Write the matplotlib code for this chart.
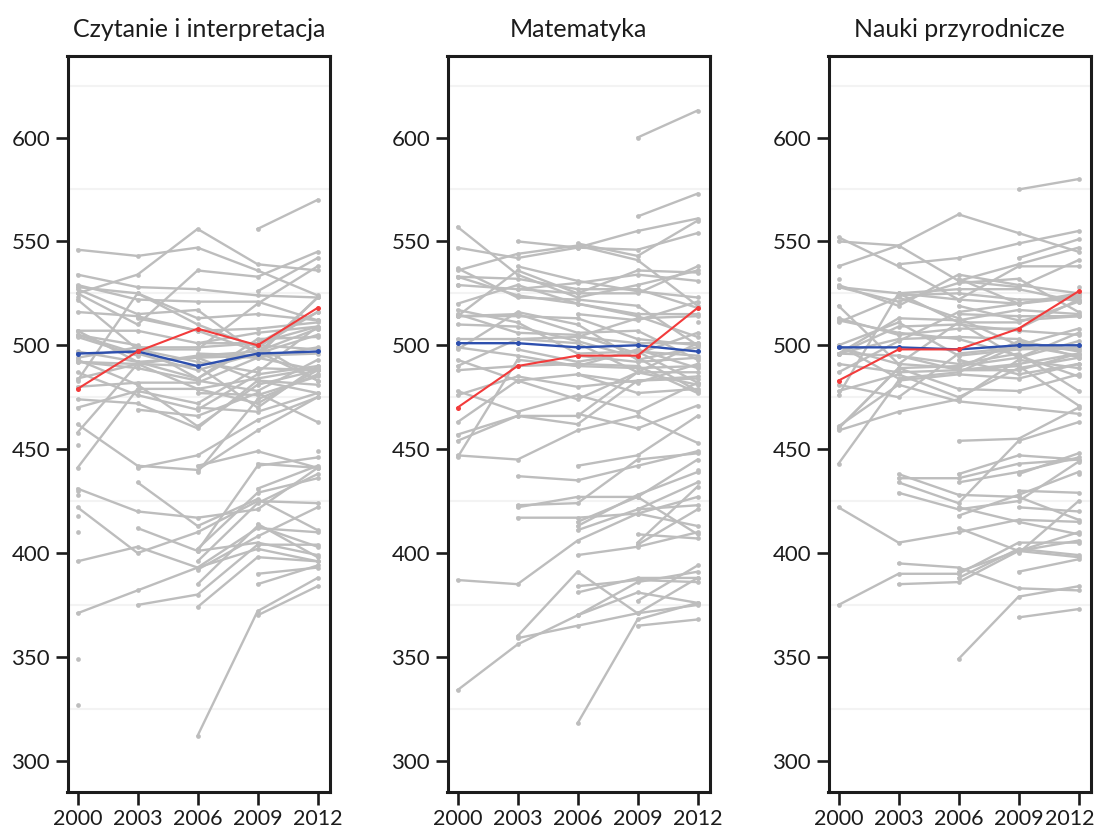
import matplotlib
matplotlib.use("Agg")
import matplotlib.pyplot as plt
import matplotlib.transforms as mtransforms
import numpy as np

plt.rcParams['font.family'] = ['Lato', 'DejaVu Sans']

years = [2000, 2003, 2006, 2009, 2012]
titles = ["Czytanie i interpretacja", "Matematyka", "Nauki przyrodnicze"]
yticks = [300, 350, 400, 450, 500, 550, 600]
faint_grid = [325, 375, 425, 475, 525, 575, 625]
N = None

countries = ["Szanghaj", "Singapur", "Hongkong", "Tajwan", "Korea", "Makau", "Japonia",
             "Liechtenstein", "Szwajcaria", "Holandia", "Estonia", "Finlandia", "Kanada",
             "Polska", "Belgia", "Niemcy", "Wietnam", "Austria", "Australia", "Irlandia",
             "Słowenia", "Dania", "Nowa Zelandia", "Czechy", "Francja", "Wielka Brytania",
             "Islandia", "Łotwa", "Luksemburg", "Norwegia", "Portugalia", "Włochy",
             "Hiszpania", "Rosja", "Słowacja", "USA", "Litwa", "Szwecja", "Węgry",
             "Chorwacja", "Izrael", "Grecja", "Serbia", "Turcja", "Rumunia", "Cypr",
             "Bułgaria", "ZEA", "Kazachstan", "Tajlandia", "Chile", "Malezja", "Meksyk",
             "Czarnogóra", "Urugwaj", "Kostaryka", "Albania", "Brazylia", "Argentyna",
             "Tunezja", "Jordania", "Kolumbia", "Katar", "Indonezja", "Peru"]

reading = [
    [N, N, N, 556, 570], [N, N, N, 526, 542], [525, 510, 536, 533, 545], [N, N, 496, 495, 523],
    [525, 534, 556, 539, 536], [N, 498, 492, 487, 509], [522, 498, 498, 520, 538],
    [483, 525, 510, 499, 516], [494, 499, 499, 501, 509], [N, 513, 507, 508, 511],
    [N, N, 501, 501, 516], [546, 543, 547, 536, 524], [534, 528, 527, 524, 523],
    [479, 497, 508, 500, 518], [507, 507, 501, 506, 509], [484, 491, 495, 497, 508],
    [N, N, N, N, 508], [492, 491, 490, 470, 490], [528, 525, 513, 515, 512],
    [527, 515, 517, 496, 523], [N, N, 494, 483, 481], [497, 492, 494, 495, 496],
    [529, 522, 521, 521, 512], [492, 489, 483, 478, 493], [505, 496, 488, 496, 505],
    [523, N, 495, 494, 499], [507, 492, 484, 500, 483], [458, 491, 479, 484, 489],
    [441, 479, 479, 472, 488], [505, 500, 484, 503, 504], [470, 478, 472, 489, 488],
    [487, 476, 469, 486, 490], [493, 481, 461, 481, 488], [462, 442, 440, 459, 475],
    [N, 469, 466, 477, 463], [504, 495, N, 500, 498], [N, N, 470, 468, 477],
    [516, 514, 507, 497, 483], [480, 482, 482, 494, 488], [N, N, 477, 476, 485],
    [452, N, 439, 474, 486], [474, 472, 460, 483, 477], [N, 412, 401, 442, 446],
    [N, 441, 447, 464, 475], [428, N, 396, 424, 438], [N, N, N, N, 449],
    [430, N, 402, 429, 436], [N, N, N, 431, 442], [N, N, N, 390, 393],
    [431, 420, 417, 421, 441], [410, N, 442, 449, 441], [N, N, N, 414, 398],
    [422, 400, 410, 425, 424], [N, N, 392, 408, 422], [N, 434, 413, 426, 411],
    [N, N, N, 443, 441], [349, N, N, 385, 394], [396, 403, 393, 412, 410],
    [418, N, 374, 398, 396], [N, 375, 380, 404, 404], [N, N, 401, 405, 399],
    [N, N, 385, 413, 403], [N, N, 312, 372, 388], [371, 382, 393, 402, 396],
    [327, N, N, 370, 384]]

math = [
    [N, N, N, 600, 613], [N, N, N, 562, 573], [N, 550, 547, 555, 561], [N, N, 549, 543, 560],
    [547, 542, 547, 546, 554], [N, 527, 525, 525, 538], [557, 534, 523, 529, 536],
    [514, 536, 525, 536, 535], [529, 527, 530, 534, 531], [N, 538, 531, 526, 523],
    [N, N, 515, 512, 521], [536, 544, 548, 541, 519], [533, 532, 527, 527, 518],
    [470, 490, 495, 495, 518], [520, 529, 520, 515, 515], [490, 503, 504, 513, 514],
    [N, N, N, N, 511], [515, 506, 505, 496, 506], [533, 524, 520, 514, 504],
    [503, 503, 501, 487, 501], [N, N, 504, 501, 501], [514, 514, 513, 503, 500],
    [537, 523, 522, 519, 500], [498, 516, 510, 493, 499], [517, 511, 496, 497, 495],
    [529, N, 495, 492, 494], [514, 515, 506, 507, 493], [463, 483, 486, 482, 491],
    [446, 493, 490, 489, 490], [499, 495, 490, 498, 489], [454, 466, 466, 487, 487],
    [457, 466, 462, 483, 485], [476, 485, 480, 483, 484], [478, 468, 476, 468, 482],
    [N, 498, 492, 497, 482], [493, 483, 474, 487, 481], [N, N, 486, 477, 479],
    [510, 509, 502, 494, 478], [488, 490, 491, 490, 477], [N, N, 467, 460, 471],
    [N, N, 442, 447, 466], [447, 445, 459, 466, 453], [N, 437, 435, 442, 449],
    [N, 423, 424, 445, 448], [N, N, 415, 427, 445], [N, N, N, N, 440],
    [N, N, 413, 428, 439], [N, N, N, 421, 434], [N, N, N, 405, 432],
    [N, 417, 417, 419, 427], [N, N, 411, 421, 423], [N, N, N, 404, 421],
    [387, 385, 406, 419, 413], [N, N, 399, 403, 410], [N, 422, 427, 427, 409],
    [N, N, N, 409, 407], [N, N, N, 377, 394], [334, 356, 370, 386, 391],
    [N, N, 381, 388, 388], [N, 359, 365, 371, 388], [N, N, 384, 387, 386],
    [N, N, 370, 381, 376], [N, N, 318, 368, 376], [N, 360, 391, 371, 375],
    [N, N, N, 365, 368]]

science = [
    [N, N, N, 575, 580], [N, N, N, 542, 551], [N, 539, 542, 549, 555], [N, N, 532, 520, 523],
    [552, 538, 522, 538, 538], [N, 525, 511, 511, 521], [550, 548, 531, 539, 547],
    [476, 525, 522, 520, 525], [496, 513, 512, 517, 515], [N, 524, 525, 522, 522],
    [N, N, 531, 528, 541], [538, 548, 563, 554, 545], [529, 519, 534, 529, 525],
    [483, 498, 498, 508, 526], [496, 509, 510, 507, 505], [487, 502, 516, 520, 524],
    [N, N, N, N, 528], [519, 491, 511, 494, 506], [528, 525, 527, 527, 521],
    [513, 505, 508, 508, 522], [N, N, 519, 512, 514], [481, 475, 496, 499, 498],
    [528, 521, 530, 532, 516], [511, 523, 513, 500, 508], [500, 511, 495, 498, 499],
    [532, N, 515, 514, 514], [496, 495, 491, 496, 478], [460, 489, 490, 494, 502],
    [443, 483, 486, 484, 491], [500, 484, 487, 500, 495], [459, 468, 474, 493, 489],
    [478, 486, 475, 489, 494], [491, 487, 488, 488, 496], [460, 489, 479, 478, 486],
    [N, 495, 488, 490, 471], [499, 491, 489, 502, 497], [N, N, 488, 491, 496],
    [512, 506, 503, 495, 485], [496, 503, 504, 503, 494], [N, N, 493, 486, 491],
    [N, N, 454, 455, 470], [461, 481, 473, 470, 467], [N, 436, 436, 443, 445],
    [N, 434, 424, 454, 463], [N, N, 418, 428, 439], [N, N, N, N, 438],
    [N, N, 434, 439, 446], [N, N, N, 438, 448], [N, N, N, 400, 425],
    [N, 429, 421, 425, 444], [N, N, 438, 447, 445], [N, N, N, 422, 420],
    [422, 405, 410, 416, 415], [N, N, 412, 401, 410], [N, 438, 428, 427, 416],
    [N, N, N, 430, 429], [N, N, N, 391, 397], [375, 390, 390, 405, 405],
    [N, N, 391, 401, 406], [N, 385, 386, 401, 398], [N, N, 422, 415, 409],
    [N, N, 388, 402, 399], [N, N, 349, 379, 384], [N, 395, 393, 383, 382],
    [N, N, N, 369, 373]]

oecd_reading = [496, 497, 490, 496, 497]
oecd_math = [501, 501, 499, 500, 497]
oecd_science = [499, 499, 498, 500, 500]

highlight = "Polska"

subjects = [reading, math, science]
oecd = [oecd_reading, oecd_math, oecd_science]

GRAY = "#bdbdbd"
RED = "#f23b3b"
BLUE = "#2d4fae"
DARK = "#1c1c1c"

fig = plt.figure(figsize=(10.99, 8.30), dpi=100)
lefts = [67.5 / 1099, 447.5 / 1099, 828.5 / 1099]
w = 262.5 / 1099
bottom = 1 - 791.5 / 830
h = (791.5 - 56.5) / 830

for i in range(3):
    ax = fig.add_axes([lefts[i], bottom, w, h])
    for g in faint_grid:
        ax.axhline(g, color="#f3f3f3", lw=1.5, zorder=0)

    hl = None
    for name, vals in zip(countries, subjects[i]):
        ys = np.array([np.nan if v is None else v for v in vals], dtype=float)
        if name == highlight:
            hl = ys
            continue
        ax.plot(years, ys, color=GRAY, lw=1.7, marker="o", ms=3.4,
                markeredgewidth=0, zorder=2)

    ax.plot(years, oecd[i], color=BLUE, lw=1.7, marker="o", ms=3.6,
            markeredgewidth=0, zorder=4)
    ax.plot(years, hl, color=RED, lw=1.5, marker="o", ms=3.6,
            markeredgewidth=0, zorder=5)

    ax.set_xlim(1999.5, 2012.62)
    ax.set_ylim(285.2, 639)
    ax.set_xticks(years)
    ax.set_yticks(yticks)
    ax.tick_params(axis="both", length=9, width=1.9, pad=3.5,
                   color=DARK, labelcolor=DARK)
    ax.tick_params(axis="y", labelsize=16)
    ax.tick_params(axis="x", labelsize=15.5)
    for s in ax.spines.values():
        s.set_linewidth(2.2)
        s.set_color(DARK)
    ax.set_title(titles[i], fontsize=18, color=DARK, pad=14)

    if i == 2:
        # last label sits at the figure edge, nudge it inwards a little
        lab = ax.get_xticklabels()[-1]
        lab.set_transform(lab.get_transform() +
                          mtransforms.ScaledTranslation(-0.085, 0, fig.dpi_scale_trans))

fig.savefig("out.png", dpi=100)
